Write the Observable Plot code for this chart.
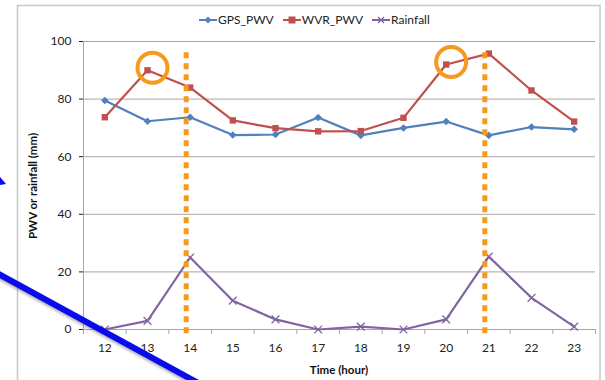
<!DOCTYPE html>
<html>
<head>
<meta charset="utf-8">
<script src="https://cdn.jsdelivr.net/npm/d3@7"></script>
<script src="https://cdn.jsdelivr.net/npm/@observablehq/plot@0.6"></script>
<style>
  html, body { margin: 0; padding: 0; background: #fff; }
  #wrap { position: relative; width: 605px; height: 380px; overflow: hidden; font-family: Lato, "Open Sans", sans-serif; }
  #wrap > svg, #overlay { position: absolute; left: 0; top: 0; }
  #legend { position: absolute; top: 12px; left: 199px; display: flex; align-items: center; font-size: 12px; color: #222; white-space: nowrap; }
  #legend .item { display: flex; align-items: center; margin-right: 9px; }
  #legend svg { margin-right: 1px; }
</style>
</head>
<body>
<div id="wrap"></div>
<script>
// ---- data ----
const hours = [12, 13, 14, 15, 16, 17, 18, 19, 20, 21, 22, 23];
const gpsPwv = [79.5, 72.3, 73.7, 67.5, 67.7, 73.6, 67.4, 70.0, 72.2, 67.4, 70.3, 69.5];
const wvrPwv = [73.7, 90.0, 84.0, 72.6, 69.9, 68.8, 68.9, 73.5, 92.0, 95.8, 83.0, 72.2];
const rainfall = [0, 3.0, 25.0, 10.0, 3.5, 0, 1.0, 0, 3.5, 25.3, 11.0, 1.0];
const yTicks = [0, 20, 40, 60, 80, 100];
const seriesNames = ["GPS_PWV", "WVR_PWV", "Rainfall"];
const seriesColors = ["#4f81bd", "#c0504d", "#8064a2"];
const highlightHours = [14, 21];        // dashed orange markers
const circledHours = [13, 20];          // circled WVR points

const rows = [];
hours.forEach((h, i) => {
  rows.push({hour: h, value: gpsPwv[i], series: seriesNames[0]});
  rows.push({hour: h, value: wvrPwv[i], series: seriesNames[1]});
  rows.push({hour: h, value: rainfall[i], series: seriesNames[2]});
});
const circled = circledHours.map(h => ({hour: h, value: wvrPwv[hours.indexOf(h)]}));
const boundaries = hours.map(h => h - 0.5).concat([hours[hours.length - 1] + 0.5]);
const orange = "#f7991c";
const gridGray = "#a6a6a6";

const chart = Plot.plot({
  width: 605,
  height: 380,
  marginLeft: 83,
  marginRight: 10,
  marginTop: 41,
  marginBottom: 51,
  style: {fontFamily: "Lato, 'Open Sans', sans-serif", fontSize: "12px", color: "#222", background: "transparent"},
  x: {type: "linear", domain: [11.5, 23.5], ticks: hours, tickSize: 0, tickPadding: 14, tickFormat: d => String(d), label: null},
  y: {domain: [0, 100], ticks: yTicks, tickSize: 4, tickPadding: 8, label: null},
  color: {domain: seriesNames, range: seriesColors},
  marks: [
    Plot.ruleY(yTicks.filter(t => t > 0), {stroke: gridGray, strokeWidth: 1}),
    Plot.ruleY([0], {stroke: gridGray, strokeWidth: 1}),
    Plot.ruleX([11.5], {y1: 0, y2: 100, stroke: gridGray, strokeWidth: 1}),
    Plot.ruleX(boundaries, {y1: 0, y2: 0, insetBottom: -5, stroke: gridGray, strokeWidth: 1}),
    Plot.line(rows, {x: "hour", y: "value", z: "series", stroke: "series", strokeWidth: 2.2}),
    Plot.dot(rows.filter(d => d.series === "GPS_PWV"), {x: "hour", y: "value", symbol: "diamond2", r: 3.4, fill: seriesColors[0], stroke: null}),
    Plot.dot(rows.filter(d => d.series === "WVR_PWV"), {x: "hour", y: "value", symbol: "square", r: 3.6, fill: seriesColors[1], stroke: null}),
    Plot.dot(rows.filter(d => d.series === "Rainfall"), {x: "hour", y: "value", symbol: "times", r: 3.6, stroke: seriesColors[2], strokeWidth: 1.3}),
    Plot.ruleX(highlightHours, {y1: -1.5, y2: 97.3, dx: -4, stroke: orange, strokeWidth: 5, strokeDasharray: "6,5"}),
    Plot.dot(circled, {x: "hour", y: "value", r: 15, dx: 5, dy: -2.5, stroke: orange, strokeWidth: 4, fill: "none"})
  ]
});
document.getElementById("wrap").appendChild(chart);

// legend
const legend = document.createElement("div");
legend.id = "legend";
const legendSymbols = [
  c => `<path d="M0,6 H18" stroke="${c}" stroke-width="2"/><path d="M9,2.5 L12.5,6 L9,9.5 L5.5,6Z" fill="${c}"/>`,
  c => `<path d="M0,6 H18" stroke="${c}" stroke-width="2"/><rect x="5.5" y="2.5" width="7" height="7" fill="${c}"/>`,
  c => `<path d="M0,6 H18" stroke="${c}" stroke-width="2"/><path d="M6,3 L12,9 M12,3 L6,9" stroke="${c}" stroke-width="1.3"/>`
];
seriesNames.forEach((name, i) => {
  const item = document.createElement("div");
  item.className = "item";
  item.innerHTML = `<svg width="18" height="12">${legendSymbols[i](seriesColors[i])}</svg><span>${name}</span>`;
  legend.appendChild(item);
});
document.getElementById("wrap").appendChild(legend);

// overlay: outer frame, axis titles, blue annotation line
const ns = "http://www.w3.org/2000/svg";
const overlay = document.createElementNS(ns, "svg");
overlay.setAttribute("id", "overlay");
overlay.setAttribute("width", 605);
overlay.setAttribute("height", 380);
overlay.innerHTML = `
  <defs><filter id="sh" x="-20%" y="-20%" width="140%" height="140%"><feGaussianBlur stdDeviation="1.5"/></filter></defs>
  <rect x="17.5" y="5.5" width="582.5" height="400" fill="none" stroke="#c8c8c8" stroke-width="1.5"/>
  <text x="34" y="186" transform="rotate(-90 34 186)" text-anchor="middle" dominant-baseline="middle" font-family="Lato, 'Open Sans', sans-serif" font-size="11.5" font-weight="bold" fill="#111">PWV or rainfall (mm)</text>
  <text x="339" y="371" text-anchor="middle" dominant-baseline="middle" font-family="Lato, 'Open Sans', sans-serif" font-size="11.5" font-weight="bold" fill="#111">Time (hour)</text>
  <line x1="-5" y1="272" x2="200" y2="384" stroke="#555" stroke-width="6" opacity="0.5" filter="url(#sh)" transform="translate(2,3)"/>
  <line x1="-5" y1="272" x2="200" y2="384" stroke="#0a0aee" stroke-width="6"/>
  <path d="M0,177 L6,184 L0,185 Z" fill="#0a0aee"/>
`;
document.getElementById("wrap").appendChild(overlay);
</script>
</body>
</html>
